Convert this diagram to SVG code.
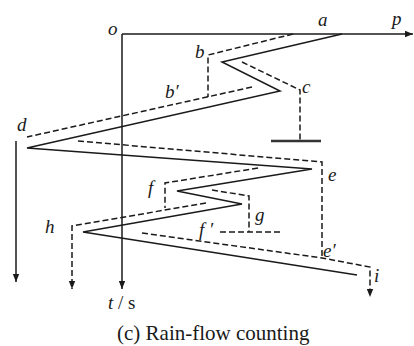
<svg xmlns="http://www.w3.org/2000/svg" width="414" height="346" viewBox="0 0 414 346">
<defs>
<marker id="ah" viewBox="0 0 10 10" refX="10" refY="5" markerWidth="8" markerHeight="8" markerUnits="userSpaceOnUse" orient="auto">
<path d="M0,1 L10,5 L0,9 Z" fill="#1a1a1a"/>
</marker>
<style>
.s{fill:none;stroke:#1a1a1a;stroke-width:1.5}
.d{fill:none;stroke:#1a1a1a;stroke-width:1.5;stroke-dasharray:6 3}
.l{font-family:"Liberation Serif","Times New Roman","DejaVu Serif",serif;font-size:19px;font-style:italic;fill:#1a1a1a}
.c{font-family:"Liberation Serif","Times New Roman","DejaVu Serif",serif;font-size:21px;fill:#1a1a1a}
</style>
</defs>
<rect width="414" height="346" fill="#fff"/>
<g id="axes">
<path class="s" d="M122,34 H413" marker-end="url(#ah)"/>
<path class="s" d="M122,34 V289" marker-end="url(#ah)"/>
</g>
<g id="connectors">
<path id="load-history" class="s" d="M342,34 L222,62 L280,91 L27,148 L312,169 L177,191 L242,204 L83,232 L357,275"/>
<path class="d" d="M293,34 L208,55 L208,97"/>
<path class="d" d="M252,87 L27,137"/>
<path class="s" d="M16,141 V282" marker-end="url(#ah)"/>
<path class="d" d="M242,62 L300,90 L300,140"/>
<path class="d" d="M78,141 L322,162 L322,258"/>
<path class="d" d="M142,233 L322,258 L370,267 L370,297" marker-end="url(#ah)"/>
<path class="d" d="M258,168 L165,183 L165,208"/>
<path class="d" d="M206,203 L72,226 L72,289" marker-end="url(#ah)"/>
<path class="d" d="M212,190 L249,196 L249,232"/>
<path class="d" d="M220,232 H280"/>
</g>
<g id="stop-c"><path d="M271,141 H321" stroke="#333" stroke-width="2.4"/></g>
<g id="labels">
<text class="l" x="108" y="35">o</text>
<text class="l" x="318" y="26">a</text>
<text class="l" x="392" y="25">p</text>
<text class="l" x="195" y="58">b</text>
<text class="l" x="165" y="98">b′</text>
<text class="l" x="302" y="93">c</text>
<text class="l" x="17" y="131">d</text>
<text class="l" x="328" y="181">e</text>
<text class="l" x="148" y="194">f</text>
<text class="l" x="255" y="221">g</text>
<text class="l" x="199" y="236">f ′</text>
<text class="l" x="45" y="233">h</text>
<text class="l" x="323" y="257">e′</text>
<text class="l" x="374" y="282">i</text>
<text x="108" y="309" class="c" style="font-size:19px"><tspan font-style="italic">t</tspan> / s</text>
<text class="c" x="117" y="340">(c) Rain-flow counting</text>
</g>
</svg>
